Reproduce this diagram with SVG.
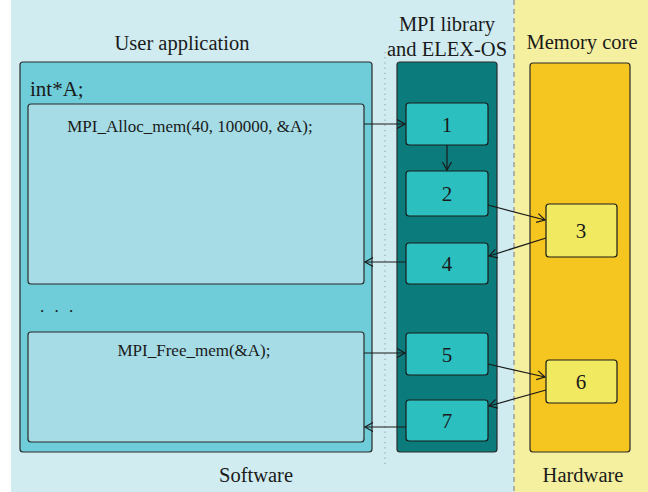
<svg xmlns="http://www.w3.org/2000/svg" width="648" height="492" viewBox="0 0 648 492">
  <defs>
    <marker id="open" markerWidth="12" markerHeight="12" refX="10" refY="6" orient="auto" markerUnits="userSpaceOnUse">
      <path d="M2,1.5 L10,6 L2,10.5" fill="none" stroke="#1a1a1a" stroke-width="1.2"/>
    </marker>
  </defs>
  <style>
    text { font-family: "Liberation Serif", "DejaVu Serif", serif; fill: #1a1a1a; }
    .title { font-size: 20.5px; text-anchor: middle; }
    .code { font-size: 17px; text-anchor: middle; }
    .num { font-size: 21px; text-anchor: middle; }
    .panel { stroke: #2a2a2a; stroke-width: 1.2; }
    .step { fill: #2bbfbf; stroke: #1a1a1a; stroke-width: 1.2; }
    .mem { fill: #f1ea60; stroke: #1a1a1a; stroke-width: 1.2; }
    .link { fill: none; stroke: #1a1a1a; stroke-width: 1.2; marker-end: url(#open); }
  </style>

  <!-- software / hardware regions -->
  <rect x="11" y="0" width="503" height="492" fill="#d0ecf0"/>
  <rect x="514" y="0" width="134" height="492" fill="#f4f0a0"/>
  <line x1="514" y1="0" x2="514" y2="492" stroke="#8a8a8a" stroke-width="1.2" stroke-dasharray="5,4"/>
  <line x1="385" y1="52" x2="385" y2="466" stroke="#8a94b0" stroke-width="1" stroke-dasharray="1.2,4"/>

  <text class="title" x="256" y="482">Software</text>
  <text class="title" x="583" y="482">Hardware</text>

  <!-- user application -->
  <g id="user-app">
    <text class="title" x="182" y="50">User application</text>
    <rect class="panel" x="20" y="62" width="352" height="390" rx="3" fill="#6ecdd9"/>
    <text x="30" y="96" style="font-size:21px">int*A;</text>
    <text x="40" y="312" style="font-size:17px;letter-spacing:3px">. . .</text>
  </g>
  <g id="alloc-call">
    <rect class="panel" x="28" y="104" width="336" height="180" rx="3" fill="#a6dce6"/>
    <text class="code" x="190" y="132">MPI_Alloc_mem(40, 100000, &amp;A);</text>
  </g>
  <g id="free-call">
    <rect class="panel" x="28" y="332" width="336" height="110" rx="3" fill="#a6dce6"/>
    <text class="code" x="194" y="356">MPI_Free_mem(&amp;A);</text>
  </g>

  <!-- MPI library and ELEX-OS -->
  <g id="mpi-lib">
    <text class="title" x="447" y="31">MPI library</text>
    <text class="title" x="447" y="56">and ELEX-OS</text>
    <rect class="panel" x="397" y="62" width="100" height="390" rx="3" fill="#0c7b7b"/>
  </g>
  <g id="step1"><rect class="step" x="406" y="103" width="82" height="42" rx="3"/><text class="num" x="447" y="132">1</text></g>
  <g id="step2"><rect class="step" x="406" y="171" width="82" height="45" rx="3"/><text class="num" x="447" y="201">2</text></g>
  <g id="step4"><rect class="step" x="406" y="243" width="82" height="41" rx="3"/><text class="num" x="447" y="271">4</text></g>
  <g id="step5"><rect class="step" x="406" y="333" width="82" height="42" rx="3"/><text class="num" x="447" y="362">5</text></g>
  <g id="step7"><rect class="step" x="406" y="400" width="82" height="41" rx="3"/><text class="num" x="447" y="428">7</text></g>

  <!-- memory core -->
  <g id="memory-core">
    <text class="title" x="582" y="49">Memory core</text>
    <rect class="panel" x="530" y="63" width="100" height="389" rx="3" fill="#f5c520"/>
  </g>
  <g id="step3"><rect class="mem" x="546" y="204" width="71" height="53" rx="3"/><text class="num" x="581" y="238">3</text></g>
  <g id="step6"><rect class="mem" x="546" y="360" width="71" height="43" rx="3"/><text class="num" x="581" y="389">6</text></g>

  <!-- connectors -->
  <g id="connectors">
    <line class="link" x1="364" y1="124" x2="405" y2="124"/>
    <line class="link" x1="447" y1="145" x2="447" y2="170"/>
    <line class="link" x1="488" y1="205" x2="545" y2="220"/>
    <line class="link" x1="546" y1="238" x2="489" y2="256"/>
    <line class="link" x1="406" y1="262" x2="365" y2="262"/>
    <line class="link" x1="364" y1="353" x2="405" y2="353"/>
    <line class="link" x1="488" y1="364" x2="545" y2="377"/>
    <line class="link" x1="546" y1="390" x2="489" y2="406"/>
    <line class="link" x1="406" y1="427" x2="365" y2="427"/>
  </g>
</svg>
